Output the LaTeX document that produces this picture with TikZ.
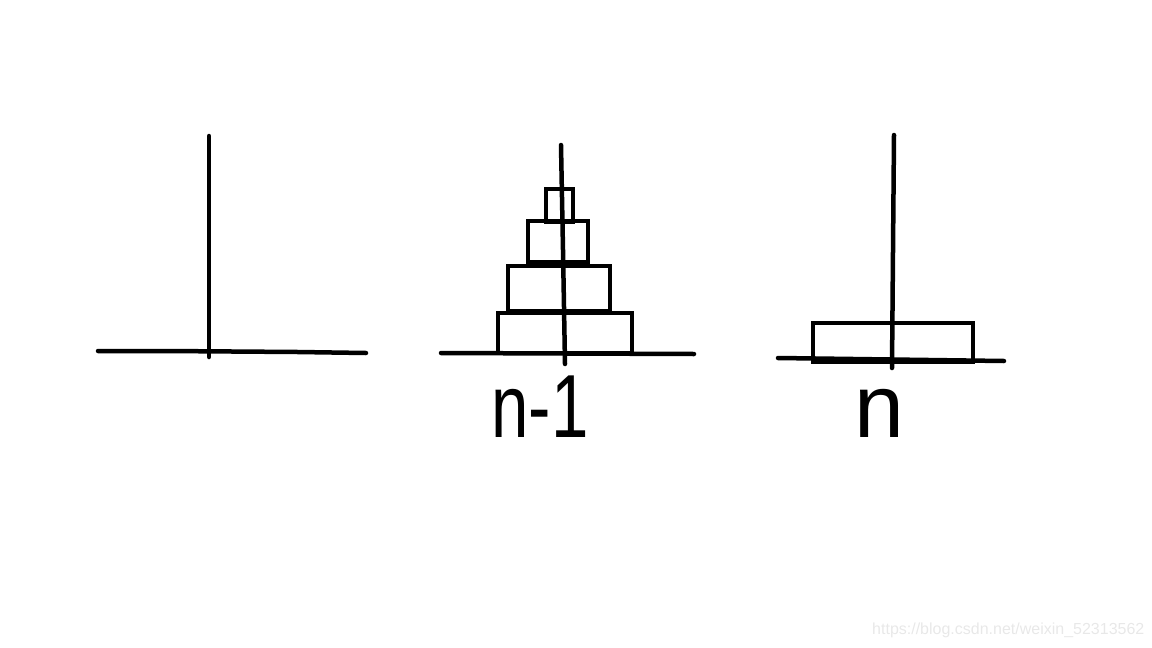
\documentclass[tikz,border=0pt]{standalone}
\usepackage{fontspec}
\setmainfont{Liberation Sans}
\begin{document}
\begin{tikzpicture}[x=1pt,y=-1pt,
  stroke/.style={line width=4.5pt,black,line cap=round},
  disk/.style={line width=4.5pt,black},
  hand/.style={font=\fontsize{56}{56}\selectfont,inner sep=0pt,yscale=1.6},
  wm/.style={font=\fontsize{16}{16}\selectfont,text=black!9,inner sep=0pt,anchor=west}]
\useasboundingbox (0,0) rectangle (1152,648);
% left peg
\draw[stroke] (209,136) -- (209,357);
\draw[stroke] (98,351) -- (166,351) -- (298,352) -- (366,353);
% middle peg
\draw[disk] (546,189) rectangle (573,222);
\draw[disk] (528,221) rectangle (588,262);
\draw[disk] (508,266) rectangle (610,311);
\draw[disk] (498,313) rectangle (632,353);
\draw[stroke] (561,145) -- (563,250) -- (565,364);
\draw[stroke] (441,353) -- (694,354);
% right peg
\draw[disk] (813,323) rectangle (973,362);
\draw[stroke] (894,135) -- (892,368);
\draw[stroke] (778,358) -- (1004,361);
% labels
\node[hand,xscale=1.2] (lbla) at (540,407) {n-1};
\node[hand,xscale=1.6] (lblb) at (879,413) {n};
\node[wm] (wmark) at (872,630) {https://blog.csdn.net/weixin\_52313562};
\end{tikzpicture}
\end{document}
